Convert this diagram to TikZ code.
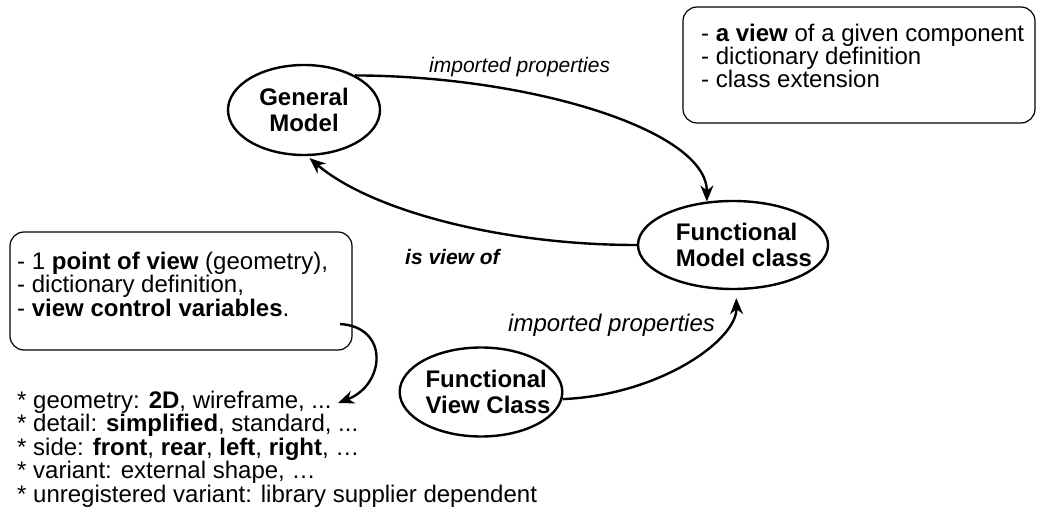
\documentclass[tikz,border=0pt]{standalone}
\usepackage{fontspec}
\setmainfont{Liberation Sans}
\usetikzlibrary{shapes.geometric,arrows.meta}
\begin{document}
\begin{tikzpicture}[x=1pt,y=-1pt,
  txt/.style={font=\fontsize{24}{22}\selectfont, inner sep=0pt, align=left, anchor=base west},
  cls/.style={ellipse, draw, line width=2.4pt, inner xsep=-12pt, inner ysep=-4pt,
              align=center, font=\bfseries\fontsize{24}{26}\selectfont},
  note/.style={draw, rounded corners=14pt, line width=1.2pt, inner sep=0pt},
  link/.style={line width=2.4pt, -{Stealth[length=16pt,width=13pt,inset=5pt]}},
  lbl/.style={inner sep=0pt, anchor=base west, font=\itshape\fontsize{21}{24}\selectfont}]
\useasboundingbox (0,0) rectangle (1037,524);

% classes (the two functional classes carry left-aligned, slightly indented names)
\node[cls, minimum width=152pt, minimum height=90pt] (gm) at (304,110) {General\\Model};
\node[cls, align=left, minimum width=190pt, minimum height=88pt] (fm) at (733,245)
  {\hspace*{22pt}Functional\\\hspace*{22pt}Model class};
\node[cls, align=left, minimum width=154pt, minimum height=89pt] (fv) at (481,392)
  {\hspace*{14pt}Functional\\\hspace*{14pt}View Class};

% note on the functional model class (text anchored at its last baseline)
\node[note, minimum width=352pt, minimum height=116pt] (defbox) at (859,65) {};
\node[txt] (deftext) at (701,88) {- \textbf{a view} of a given component\\- dictionary definition\\- class extension};

% note on the view class
\node[note, minimum width=342pt, minimum height=118pt] (vpbox) at (181,291) {};
\node[txt] (vptext) at (17,316) {- 1 \textbf{point of view} (geometry),\\- dictionary definition,\\- \textbf{view control variables}.};

% view control variables
\node[txt] (vlist) at (17,502) {* geometry: \textbf{2D}, wireframe, ...\\
* detail: \textbf{simplified}, standard, ...\\
* side: \textbf{front}, \textbf{rear}, \textbf{left}, \textbf{right}, …\\
* variant: external shape, …\\
* unregistered variant: library supplier dependent};

\coordinate (vcvend) at (340,324);
\coordinate (geomtip) at (338,403);

% relations
\draw[link] (gm.34) .. controls (530,76) and (707,130) .. (fm.121);
\draw[link, shorten >=3pt] (fm.west) .. controls (500,245) and (370,210) .. (gm.-86);
\draw[link, shorten >=8pt] (fv.-5) .. controls (660,395) and (737,340) .. (fm.-86);
\draw[link] (vcvend) .. controls (390,327) and (385,385) .. (geomtip);

% relation labels
\node[lbl] (ip1) at (429,73) {imported properties};
\node[lbl, font=\bfseries\itshape\fontsize{21}{24}\selectfont] (isv) at (405,264) {is view of};
\node[lbl, font=\itshape\fontsize{24}{26}\selectfont] (ip2) at (508,331) {imported properties};
\end{tikzpicture}
\end{document}
